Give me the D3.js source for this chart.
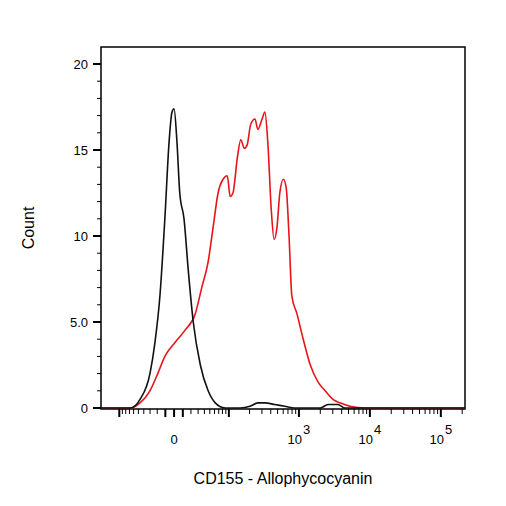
<!DOCTYPE html>
<html><head><meta charset="utf-8">
<script src="https://cdn.jsdelivr.net/npm/d3@7"></script>
<style>body{margin:0;background:#fff}text{font-family:"Liberation Sans",Arial,sans-serif}</style>
</head><body>
<script>
// x positions are in display units of a biexponential axis: T(v) = asinh(v/34.8)/ln10
const blackX = [-1.03,-0.62,-0.48,-0.34,-0.27,-0.20,-0.13,-0.07,-0.03,0,0.04,0.08,0.14,0.20,0.27,0.37,0.48,0.58,0.72,0.93,1.07,1.18,1.28,1.42,1.56,1.70,2.06,2.17,2.31,2.41,4.10];
const blackY = [0,0,0.5,2,3.8,6.5,11,15.5,17.2,17.4,15.5,12.5,11,8,5,2.5,1,0.3,0,0,0.1,0.3,0.3,0.2,0.1,0,0,0.2,0.2,0,0];
const redX = [-1.03,-0.62,-0.48,-0.34,-0.23,-0.13,0.01,0.15,0.30,0.39,0.48,0.55,0.62,0.69,0.75,0.79,0.83,0.89,0.94,0.99,1.03,1.08,1.14,1.18,1.24,1.28,1.32,1.37,1.41,1.45,1.49,1.54,1.58,1.62,1.66,1.73,1.82,1.92,2.03,2.13,2.24,2.34,2.48,2.69,4.10];
const redY = [0,0,0.3,1,2,3,3.8,4.5,5.5,7,8.5,10.5,12.5,13.3,13.5,12.3,12.5,14.5,15.6,15.1,15.3,16.5,16.8,16.2,16.8,17.2,15.5,11.5,9.8,10.5,12.5,13.3,12.8,10,6.5,5.5,4,2.5,1.5,1,0.5,0.3,0.1,0,0];
const yTicks = [0,5,10,15,20];
const yTickLabels = ["0","5.0","10","15","20"];
const xMajor = [0,1000,10000,100000];
const xMajorLabels = [["0",""],["10","3"],["10","4"],["10","5"]];

const W = 506, H = 506, L = 101, R = 465, T = 47, B = 409;
const tr = v => Math.asinh(v/34.8)/Math.LN10;
const x = d3.scaleLinear().domain([-1.03,4.10]).range([L,R]);
const y = d3.scaleLinear().domain([0,21]).range([B-1,B-1-21*17.2]);

const svg = d3.select("body").append("svg").attr("width",W).attr("height",H);
svg.append("rect").attr("x",L).attr("y",T).attr("width",R-L).attr("height",B-T)
  .attr("fill","none").attr("stroke","#000").attr("stroke-width",1.5);

// y axis
const ya = svg.append("g");
d3.range(0,21).forEach(v=>{
  const maj = v%5===0;
  ya.append("line").attr("x1",L).attr("x2",L-(maj?8:4)).attr("y1",y(v)).attr("y2",y(v))
    .attr("stroke","#000").attr("stroke-width",maj?2:1);
});
yTicks.forEach((v,i)=>ya.append("text").attr("x",L-13).attr("y",y(v)+5)
  .attr("text-anchor","end").attr("font-size",13).text(yTickLabels[i]));

// x axis minor ticks
const minor = [];
[-1,1].forEach(s=>{
  for(let e=1;e<=5;e++) for(let m=1;m<=9;m++){
    const v = s*m*Math.pow(10,e);
    if(tr(v)>-1.03 && tr(v)<4.1) minor.push(v);
  }
});
const xa = svg.append("g");
minor.forEach(v=>{
  const maj = Math.abs(Math.log10(Math.abs(v))%1)<1e-9;
  xa.append("line").attr("x1",x(tr(v))).attr("x2",x(tr(v))).attr("y1",B).attr("y2",B+(maj?8:5))
    .attr("stroke","#000").attr("stroke-width",maj?2:1);
});
xa.append("line").attr("x1",x(0)).attr("x2",x(0)).attr("y1",B).attr("y2",B+8).attr("stroke","#000").attr("stroke-width",2);
xMajor.forEach((v,i)=>{
  const t = xa.append("text").attr("x",x(tr(v))).attr("y",444).attr("text-anchor","middle").attr("font-size",13);
  t.append("tspan").text(xMajorLabels[i][0]);
  if(xMajorLabels[i][1]) t.append("tspan").attr("dy",-10).attr("dx",1).text(xMajorLabels[i][1]);
});

const line = d3.line().x(d=>x(d[0])).y(d=>y(d[1])).curve(d3.curveMonotoneX);
svg.append("path").datum(redX.map((v,i)=>[v,redY[i]])).attr("d",line)
  .attr("fill","none").attr("stroke","#e8141b").attr("stroke-width",1.6);
svg.append("path").datum(blackX.map((v,i)=>[v,blackY[i]])).attr("d",line)
  .attr("fill","none").attr("stroke","#111").attr("stroke-width",1.6);

svg.append("text").attr("transform","translate(34,228) rotate(-90)").attr("text-anchor","middle")
  .attr("font-size",16).text("Count");
svg.append("text").attr("x",283).attr("y",484).attr("text-anchor","middle")
  .attr("font-size",16).text("CD155 - Allophycocyanin");
</script>
</body></html>
